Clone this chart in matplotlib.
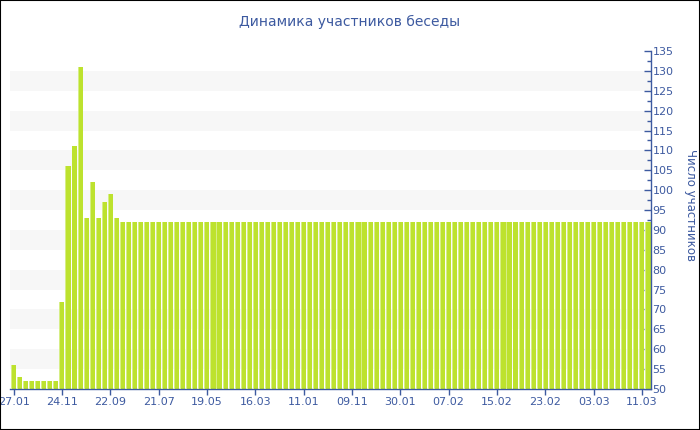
import matplotlib
matplotlib.use("Agg")
import matplotlib.pyplot as plt
import numpy as np
from matplotlib.patches import Rectangle
from matplotlib.ticker import MultipleLocator

# participants per period
head_values = [56, 53, 52, 52, 52, 52, 52, 52, 72, 106, 111, 131,
               93, 102, 93, 97, 99, 93]
tail_value = 92
n_tail = 88
members = head_values + [tail_value] * n_tail

tick_labels = ["27.01", "24.11", "22.09", "21.07", "19.05", "16.03", "11.01",
               "09.11", "30.01", "07.02", "15.02", "23.02", "03.03", "11.03"]
tick_step = 8

title = "Динамика участников беседы"
ylabel = "Число участников"

blue = "#3d5aa0"
bar_col = "#bde22e"
light_col = "#d6ee86"

fig = plt.figure(figsize=(7, 4.3), dpi=100)
ax = fig.add_axes([10 / 700, 41 / 430, 641 / 700, 338 / 430])

x = np.arange(len(members))
ax.bar(x, np.array(members) - 50, bottom=50, width=0.84, color=bar_col,
       edgecolor="none", zorder=2)
# light left edge on each bar
ax.bar(x - 0.42, np.array(members) - 50, bottom=50, width=0.16, align="edge",
       color=light_col, edgecolor="none", zorder=3)

# alternating bands
for lo in range(55, 135, 10):
    ax.axhspan(lo, lo + 5, color="#f7f7f7", zorder=0, lw=0)

ax.set_xlim(-0.6, len(members) - 0.5)
ax.set_ylim(50, 135)

ax.set_xticks(x[::tick_step][:len(tick_labels)])
ax.set_xticklabels(tick_labels)

ax.yaxis.tick_right()
ax.yaxis.set_label_position("right")
ax.yaxis.set_major_locator(MultipleLocator(5))
ax.yaxis.set_minor_locator(MultipleLocator(2.5))
ax.tick_params(axis="y", which="major", direction="in", length=5, width=1,
               color=blue, labelcolor=blue, labelsize=8, pad=1)
ax.tick_params(axis="y", which="minor", direction="in", length=3, width=1,
               color=blue)
ax.tick_params(axis="x", direction="out", length=4, width=1, color=blue,
               labelcolor=blue, labelsize=8, pad=2)

for s in ["left", "top"]:
    ax.spines[s].set_visible(False)
for s in ["right", "bottom"]:
    ax.spines[s].set_color(blue)
    ax.spines[s].set_linewidth(1)

fig.text(690 / 700, 0.5 + 10 / 430, ylabel, rotation=270, color=blue, fontsize=8.5,
         ha="center", va="center")
fig.text(350 / 700, 1 - 22 / 430, title, color=blue, fontsize=10,
         ha="center", va="center")

fig.patches.append(Rectangle((0, 0), 1, 1, transform=fig.transFigure,
                             fill=False, edgecolor="black", linewidth=1.5))

fig.savefig("out.png", dpi=100)
